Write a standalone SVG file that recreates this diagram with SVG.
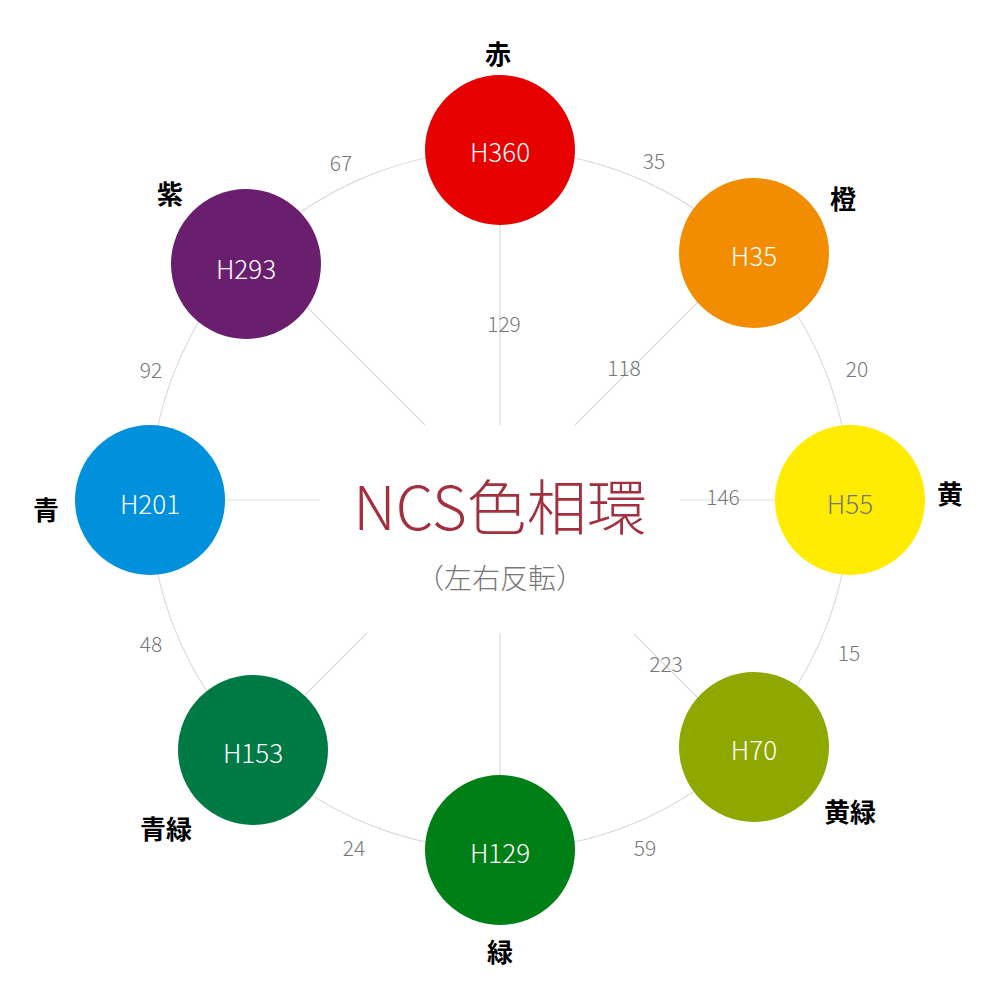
<svg xmlns="http://www.w3.org/2000/svg" width="1000" height="1000" viewBox="0 0 1000 1000">
<style>
text{font-family:"Noto Sans CJK JP","Noto Sans",sans-serif;text-anchor:middle;dominant-baseline:central}
.ln{stroke:#dddddd;stroke-width:1.2;fill:none}
.h{fill:#fff;font-size:26px;font-weight:300}
.n{fill:#777;font-size:21px;font-weight:300}
.k{fill:#000;font-size:26px;font-weight:700}
</style>
<rect width="1000" height="1000" fill="#fff"/>
<g id="connectors">
<circle class="ln" cx="500" cy="500" r="350"/>
<line class="ln" x1="500" y1="225" x2="500" y2="425"/>
<line class="ln" x1="700" y1="300" x2="575" y2="425"/>
<line class="ln" x1="775" y1="500" x2="680" y2="500"/>
<line class="ln" x1="700" y1="700" x2="634" y2="634"/>
<line class="ln" x1="500" y1="775" x2="500" y2="633"/>
<line class="ln" x1="305" y1="695" x2="367" y2="633"/>
<line class="ln" x1="225" y1="500" x2="320" y2="500"/>
<line class="ln" x1="300" y1="300" x2="425" y2="425"/>
<text class="n" x="341" y="162">67</text>
<text class="n" x="654" y="160">35</text>
<text class="n" x="857" y="368">20</text>
<text class="n" x="849" y="652">15</text>
<text class="n" x="645" y="847">59</text>
<text class="n" x="354" y="847">24</text>
<text class="n" x="151" y="643">48</text>
<text class="n" x="151" y="369">92</text>
<text class="n" x="504" y="323">129</text>
<text class="n" x="624" y="367">118</text>
<text class="n" x="723" y="496">146</text>
<text class="n" x="666" y="663">223</text>
</g>
<g id="center">
<text x="500" y="503" font-size="60" fill="#a3303f" font-weight="300">NCS色相環</text>
<text x="500" y="577" font-size="28" fill="#777" font-weight="300">（左右反転）</text>
</g>
<g id="red"><circle cx="500" cy="150" r="75" fill="#e60000"/><text class="h" x="500" y="150">H360</text><text class="k" x="498" y="52">赤</text></g>
<g id="orange"><circle cx="754" cy="253" r="75" fill="#f28c00"/><text class="h" x="754" y="254">H35</text><text class="k" x="843" y="197">橙</text></g>
<g id="yellow"><circle cx="850" cy="500" r="75" fill="#ffec00"/><text class="h" x="850" y="502" fill="#777" style="fill:#777">H55</text><text class="k" x="950" y="492">黄</text></g>
<g id="yellowgreen"><circle cx="754" cy="747" r="75" fill="#8fa800"/><text class="h" x="754" y="748">H70</text><text class="k" x="850" y="810">黄緑</text></g>
<g id="green"><circle cx="500" cy="850" r="75" fill="#007f17"/><text class="h" x="500" y="851">H129</text><text class="k" x="500" y="950">緑</text></g>
<g id="bluegreen"><circle cx="253" cy="750" r="75" fill="#007a45"/><text class="h" x="253" y="751">H153</text><text class="k" x="166" y="827">青緑</text></g>
<g id="blue"><circle cx="150" cy="500" r="75" fill="#0090dc"/><text class="h" x="150" y="502">H201</text><text class="k" x="46" y="508">青</text></g>
<g id="purple"><circle cx="246" cy="264" r="75" fill="#6a1e6e"/><text class="h" x="246" y="267">H293</text><text class="k" x="170" y="192">紫</text></g>
</svg>
